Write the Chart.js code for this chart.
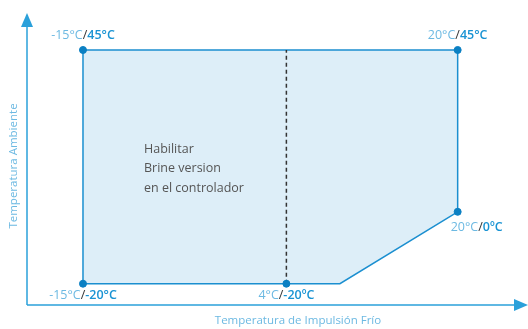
<!DOCTYPE html>
<html>
<head>
<meta charset="utf-8">
<script src="https://cdn.jsdelivr.net/npm/chart.js@4"></script>
<style>
  body { margin: 0; background: #fff; }
  #wrap { width: 528px; height: 329px; }
</style>
</head>
<body>
<div id="wrap"><canvas id="myChart" width="528" height="329"></canvas></div>
<script>
// envelope corners, in order round the shape (x = impulsion temp, y = ambient temp)
var envelopeX = [-15, -15, 20, 20, 9, -15];
var envelopeY = [-20, 45, 45, 0, -20, -20];

// marked points and their labels
var pointX = [-15, 20, 20, -15, 4];
var pointY = [45, 45, 0, -20, -20];
var labelWater = ["-15°C", "20°C", "20°C", "-15°C", "4°C"];
var labelAir = ["45°C", "45°C", "0ºC", "-20°C", "-20ºC"];

// dashed divider
var dividerX = [4, 4];
var dividerY = [-20, 45];

var noteLines = ["Habilitar", "Brine version", "en el controlador"];
var xTitle = "Temperatura de Impulsión Frío";
var yTitle = "Temperatura Ambiente";

function toPoints(xs, ys) {
  var out = [];
  for (var i = 0; i < xs.length; i++) {
    out.push({ x: xs[i], y: ys[i] });
  }
  return out;
}

var axisColor = "#2aa0da";
var lightBlue = "#6cb9e2";
var darkBlue = "#1993d3";
var font = "'Open Sans', sans-serif";

var decorPlugin = {
  id: "decor",
  beforeDatasetsDraw: function (chart) {
    var ctx = chart.ctx;
    var a = chart.chartArea;
    ctx.save();
    ctx.strokeStyle = axisColor;
    ctx.fillStyle = axisColor;
    ctx.lineWidth = 1.5;
    // y axis with arrow
    ctx.beginPath();
    ctx.moveTo(a.left, a.bottom);
    ctx.lineTo(a.left, a.top + 10);
    ctx.stroke();
    ctx.beginPath();
    ctx.moveTo(a.left, a.top);
    ctx.lineTo(a.left - 6, a.top + 14);
    ctx.lineTo(a.left + 6, a.top + 14);
    ctx.closePath();
    ctx.fill();
    // x axis with arrow
    ctx.beginPath();
    ctx.moveTo(a.left, a.bottom);
    ctx.lineTo(a.right - 10, a.bottom);
    ctx.stroke();
    ctx.beginPath();
    ctx.moveTo(a.right, a.bottom);
    ctx.lineTo(a.right - 14, a.bottom - 6);
    ctx.lineTo(a.right - 14, a.bottom + 6);
    ctx.closePath();
    ctx.fill();

    // axis titles
    ctx.fillStyle = lightBlue;
    ctx.font = "11.5px " + font;
    ctx.textAlign = "center";
    ctx.textBaseline = "middle";
    ctx.fillText(xTitle, 298, a.bottom + 16);
    ctx.translate(14, 166);
    ctx.rotate(-Math.PI / 2);
    ctx.fillText(yTitle, 0, 0);
    ctx.restore();
  },
  afterDatasetsDraw: function (chart) {
    var ctx = chart.ctx;
    var xs = chart.scales.x;
    var ys = chart.scales.y;
    ctx.save();
    ctx.textBaseline = "middle";

    // note inside the envelope
    ctx.fillStyle = "#555";
    ctx.font = "12.5px " + font;
    ctx.textAlign = "left";
    var nx = xs.getPixelForValue(-15) + 61;
    for (var n = 0; n < noteLines.length; n++) {
      ctx.fillText(noteLines[n], nx, 149 + n * 19.5);
    }

    // point labels: light part, slash, bold part
    for (var i = 0; i < pointX.length; i++) {
      var px = xs.getPixelForValue(pointX[i]);
      var py = ys.getPixelForValue(pointY[i]);
      var p1 = labelWater[i], p2 = "/", p3 = labelAir[i];
      ctx.font = "12.5px " + font;
      var w1 = ctx.measureText(p1).width;
      var w2 = ctx.measureText(p2).width;
      ctx.font = "600 12.5px " + font;
      var w3 = ctx.measureText(p3).width;
      var total = w1 + w2 + w3;
      var lx, ly;
      if (pointY[i] === 45) {
        lx = px - total / 2; ly = py - 15;
      } else if (pointX[i] === 20) {
        lx = px - 7; ly = py + 16;
      } else {
        lx = px - total / 2; ly = py + 12;
      }
      ctx.textAlign = "left";
      ctx.font = "12.5px " + font;
      ctx.fillStyle = lightBlue;
      ctx.fillText(p1, lx, ly);
      ctx.fillStyle = "#333";
      ctx.fillText(p2, lx + w1, ly);
      ctx.font = "600 12.5px " + font;
      ctx.fillStyle = darkBlue;
      ctx.fillText(p3, lx + w1 + w2, ly);
    }
    ctx.restore();
  },
};

function createChart() {
  var ctx = document.getElementById("myChart").getContext("2d");
  var myChart = new Chart(ctx, {
    type: "scatter",
    data: {
      datasets: [
        {
          data: toPoints(envelopeX, envelopeY),
          order: 3,
          showLine: true,
          fill: "shape",
          backgroundColor: "#ddeef8",
          borderColor: "#1b8fd0",
          borderWidth: 1.5,
          pointRadius: 0,
          tension: 0,
        },
        {
          data: toPoints(dividerX, dividerY),
          order: 2,
          showLine: true,
          borderColor: "#333",
          borderWidth: 1.5,
          borderDash: [4, 3],
          pointRadius: 0,
        },
        {
          data: toPoints(pointX, pointY),
          order: 1,
          showLine: false,
          pointRadius: 3.5,
          backgroundColor: "#0b80c3",
          borderColor: "#0b80c3",
        },
      ],
    },
    options: {
      responsive: false,
      animation: false,
      layout: { autoPadding: false, padding: { left: 27, right: 0, top: 13, bottom: 24 } },
      plugins: { legend: { display: false }, tooltip: { enabled: false } },
      scales: {
        x: { type: "linear", display: false, min: -20.23, max: 26.57 },
        y: { type: "linear", display: false, min: -25.92, max: 55.29 },
      },
    },
    plugins: [decorPlugin],
  });
}
createChart();
</script>
</body>
</html>
